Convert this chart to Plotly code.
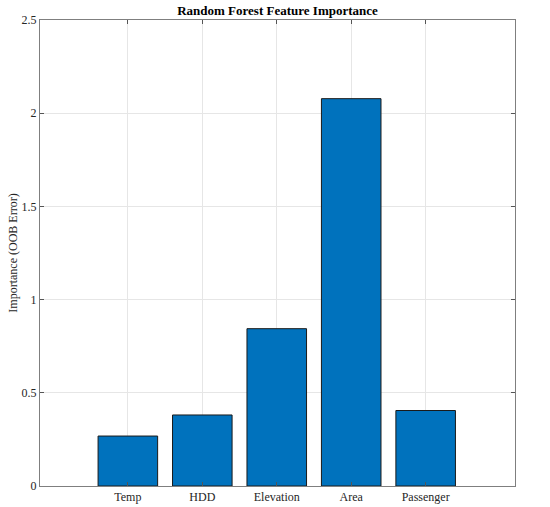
import plotly.graph_objects as go

categories = ["Temp", "HDD", "Elevation", "Area", "Passenger"]
importance = [0.268, 0.381, 0.844, 2.078, 0.405]
positions = [1, 2, 3, 4, 5]
y_ticks = [0, 0.5, 1, 1.5, 2, 2.5]
y_tick_labels = ["0", "0.5", "1", "1.5", "2", "2.5"]

fig = go.Figure()
fig.add_trace(go.Bar(
    x=positions, y=importance, width=0.8,
    marker=dict(color="#0072BD", line=dict(color="#1a1a1a", width=1)),
    showlegend=False,
))

font = "Liberation Serif, Times New Roman, serif"
fig.update_layout(
    width=550, height=507,
    margin=dict(l=40, r=35, t=20, b=21, autoexpand=False),
    paper_bgcolor="white", plot_bgcolor="white",
    font=dict(family=font, size=12, color="#262626"),
    title=dict(text="<b>Random Forest Feature Importance</b>", x=0.5, xanchor="center",
               xref="paper", y=1 - 10/507, yanchor="middle", automargin=False,
               font=dict(family=font, size=13, color="#000000")),
    bargap=0.2,
)
fig.update_xaxes(
    range=[-0.18, 6.2], tickmode="array", tickvals=positions, ticktext=categories,
    showgrid=True, gridcolor="#e6e6e6", gridwidth=1, automargin=False,
    showline=True, linecolor="#7f7f7f", linewidth=1, mirror="ticks",
    ticks="inside", ticklen=4, tickcolor="#555555", zeroline=False,
)
fig.update_yaxes(
    range=[0, 2.5], tickmode="array", tickvals=y_ticks, ticktext=y_tick_labels,
    showgrid=True, gridcolor="#e6e6e6", gridwidth=1, automargin=False,
    showline=True, linecolor="#7f7f7f", linewidth=1, mirror="ticks",
    ticks="inside", ticklen=4, tickcolor="#555555", zeroline=False,
    title=dict(text="Importance (OOB Error)", standoff=1, font=dict(size=12)),
)
fig.write_html("out.html", config={"displayModeBar": False},
               post_script="document.body.style.margin='0';document.body.style.overflow='hidden';")
